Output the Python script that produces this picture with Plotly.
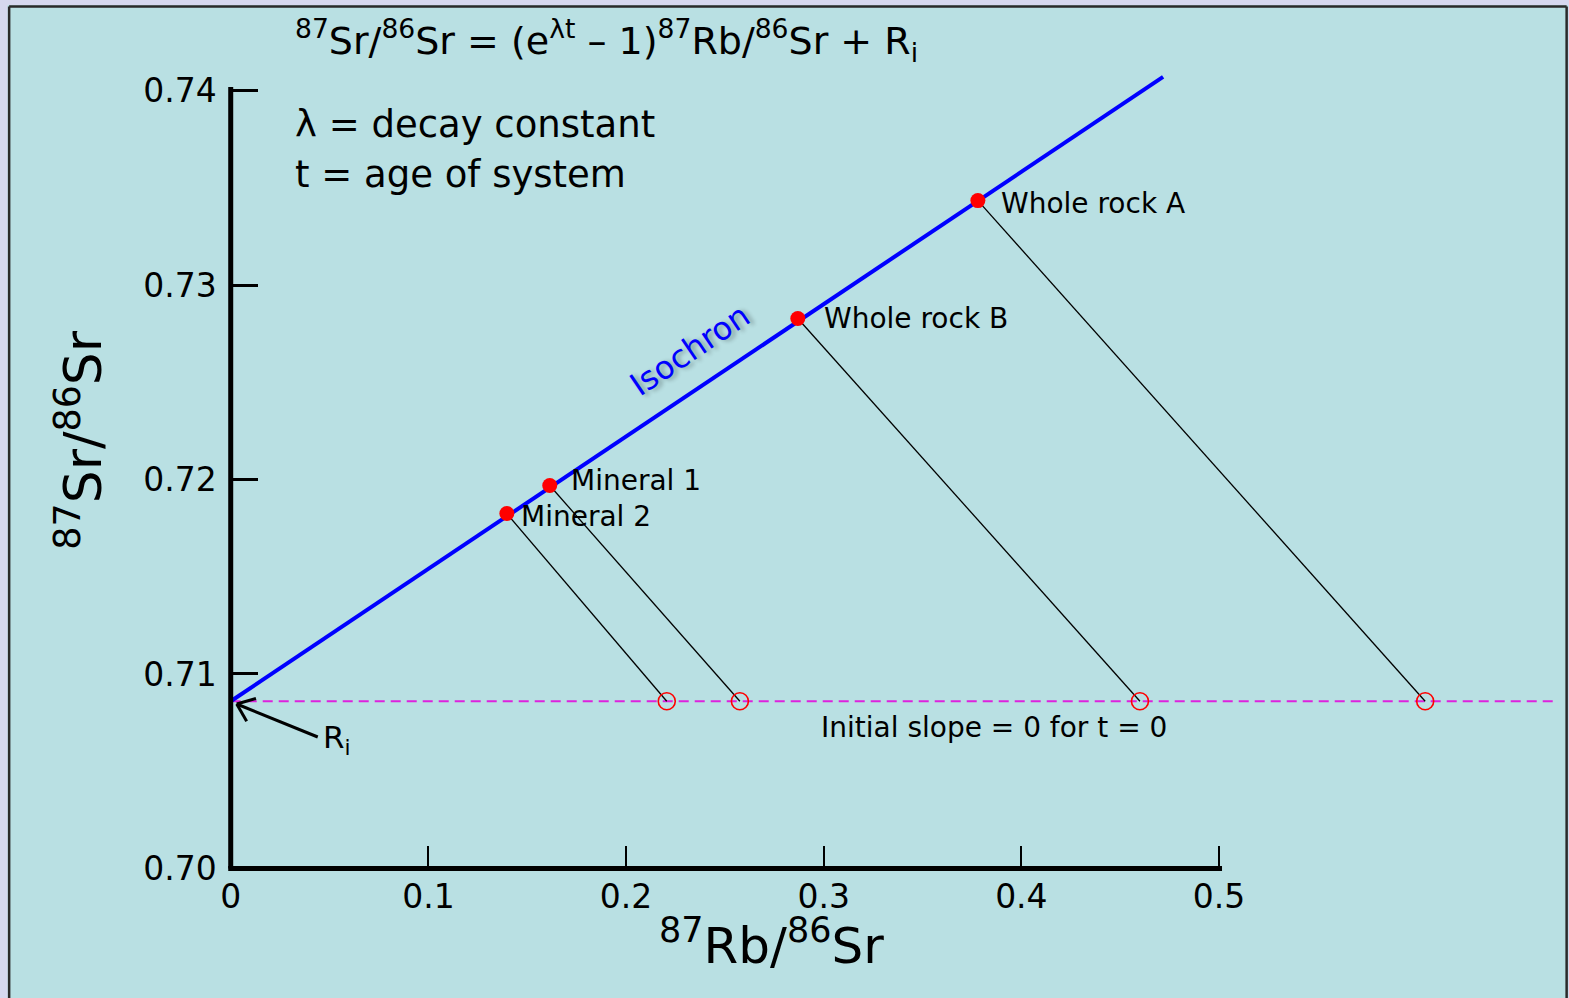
import math
import plotly.graph_objects as go

# ---------------- data ----------------
R_I = 0.7086                      # initial 87Sr/86Sr ratio
sample_names = ["Mineral 2", "Mineral 1", "Whole rock B", "Whole rock A"]
rb_sr_now = [0.1397, 0.1614, 0.2869, 0.3780]      # 87Rb/86Sr today
sr_sr_now = [0.71825, 0.71969, 0.72828, 0.73434]  # 87Sr/86Sr today
rb_sr_init = [0.2206, 0.2576, 0.4600, 0.6043]     # 87Rb/86Sr at t = 0
iso_x = [0.0, 0.4717]
iso_y = [0.7086, 0.7407]
initial_line_x = [0.0, 0.670]
x_tickvals = [0, 0.1, 0.2, 0.3, 0.4, 0.5]
x_ticktext = ["0", "0.1", "0.2", "0.3", "0.4", "0.5"]
y_tickvals = [0.70, 0.71, 0.72, 0.73, 0.74]
y_ticktext = ["0.70", "0.71", "0.72", "0.73", "0.74"]

# ---------------- geometry ----------------
W, H = 1569, 998
X_RANGE = [-0.012, 0.672]
Y_RANGE = [0.6955, 0.7445]
PX_X = 1976.0      # pixels per x unit
PX_Y = 19450.0     # pixels per y unit
L = 231 + X_RANGE[0] * PX_X
PW = (X_RANGE[1] - X_RANGE[0]) * PX_X
R = W - L - PW
T = 90.5 - (Y_RANGE[1] - 0.74) * PX_Y
PH = (Y_RANGE[1] - Y_RANGE[0]) * PX_Y
B = H - T - PH


def px2x(px):
    return X_RANGE[0] + (px - L) / PX_X


def py2y(py):
    return Y_RANGE[1] - (py - T) / PX_Y


def pxp(px):  # pixel -> paper x
    return (px - L) / PW


def pyp(py):  # pixel -> paper y
    return (H - B - py) / PH


FONT = "DejaVu Sans"
BG = "#b9e0e3"
LAV = "#d6d8ef"

fig = go.Figure()

# dashed initial line (t = 0)
fig.add_trace(go.Scatter(
    x=initial_line_x, y=[R_I, R_I], mode="lines",
    line=dict(color="#dd22dd", width=2, dash="10px,6px"),
    hoverinfo="skip", showlegend=False))

# connectors from present-day samples to initial positions
cx, cy = [], []
for xn, yn, xi in zip(rb_sr_now, sr_sr_now, rb_sr_init):
    cx += [xn, xi, None]
    cy += [yn, R_I, None]
fig.add_trace(go.Scatter(
    x=cx, y=cy, mode="lines", line=dict(color="black", width=1.3),
    hoverinfo="skip", showlegend=False))

# isochron
fig.add_trace(go.Scatter(
    x=iso_x, y=iso_y, mode="lines", line=dict(color="#0000ff", width=4),
    hoverinfo="skip", showlegend=False))

# open circles at t = 0
fig.add_trace(go.Scatter(
    x=rb_sr_init, y=[R_I] * len(rb_sr_init), mode="markers",
    marker=dict(symbol="circle-open", size=17, color="#ff0000",
                line=dict(width=1.6, color="#ff0000")),
    hoverinfo="skip", showlegend=False))

# present-day samples
fig.add_trace(go.Scatter(
    x=rb_sr_now, y=sr_sr_now, mode="markers",
    marker=dict(size=15, color="#ff0000"),
    text=sample_names, hoverinfo="text", showlegend=False))

# ---------------- shapes ----------------
shapes = []
# axis lines
shapes.append(dict(type="line", xref="x", yref="y",
                   x0=px2x(228.5), x1=0.5 + 3 / PX_X, y0=0.70, y1=0.70,
                   line=dict(color="black", width=5)))
shapes.append(dict(type="line", xref="x", yref="y",
                   x0=0, x1=0, y0=0.70, y1=py2y(87),
                   line=dict(color="black", width=5)))
# arrow to R_i
hx, hy = 237, 704
tx, ty = 318, 737
shapes.append(dict(type="line", xref="x", yref="y",
                   x0=px2x(tx), y0=py2y(ty), x1=px2x(hx), y1=py2y(hy),
                   line=dict(color="black", width=3)))
dx, dy = tx - hx, ty - hy
n = math.hypot(dx, dy)
ux, uy = dx / n, dy / n
for ang in (math.radians(38), math.radians(-38)):
    rx = ux * math.cos(ang) - uy * math.sin(ang)
    ry = ux * math.sin(ang) + uy * math.cos(ang)
    shapes.append(dict(type="line", xref="x", yref="y",
                       x0=px2x(hx), y0=py2y(hy),
                       x1=px2x(hx + 20 * rx), y1=py2y(hy + 20 * ry),
                       line=dict(color="black", width=3)))
# slide frame
shapes.append(dict(type="rect", xref="paper", yref="paper",
                   x0=pxp(-5), x1=pxp(8), y0=pyp(H + 5), y1=pyp(-5),
                   fillcolor=LAV, line=dict(width=0), layer="below"))
shapes.append(dict(type="rect", xref="paper", yref="paper",
                   x0=pxp(-5), x1=pxp(W + 5), y0=pyp(5), y1=pyp(-5),
                   fillcolor=LAV, line=dict(width=0), layer="below"))
shapes.append(dict(type="rect", xref="paper", yref="paper",
                   x0=pxp(1568), x1=pxp(W + 5), y0=pyp(H + 5), y1=pyp(-5),
                   fillcolor=LAV, line=dict(width=0), layer="below"))
for (x0, y0, x1, y1) in [(9.5, 6.5, 9.5, H + 5), (9.5, 6.5, 1566.5, 6.5),
                         (1566.5, 6.5, 1566.5, H + 5)]:
    shapes.append(dict(type="line", xref="paper", yref="paper",
                       x0=pxp(x0), y0=pyp(y0), x1=pxp(x1), y1=pyp(y1),
                       line=dict(color="#2a2a2a", width=2.5)))

# ---------------- annotations ----------------
ann = []


def text(s, px, py, size, anchor="left", color="black", angle=0, **kw):
    d = dict(text=s, x=pxp(px), y=pyp(py), xref="paper", yref="paper",
             showarrow=False, xanchor=anchor, yanchor="middle",
             textangle=angle,
             font=dict(family=FONT, size=size, color=color))
    d["font"].update(kw.pop("font_extra", {}))
    d.update(kw)
    ann.append(d)


text("<sup>87</sup>Sr/<sup>86</sup>Sr = (e<sup>λt</sup> – 1)<sup>87</sup>Rb/"
     "<sup>86</sup>Sr + R<sub>i</sub>", 293, 40, 38)
text("λ = decay constant", 293, 124, 37)
text("t = age of system", 293, 174, 37)
text("Whole rock A", 999, 203, 28)
text("Whole rock B", 822, 318, 28)
text("Mineral 1", 569, 481, 28)
text("Mineral 2", 519, 517, 28)
text("Isochron", 690, 350, 32, anchor="center", color="#0000ff", angle=-34,
     font_extra=dict(shadow="3px 3px 4px rgba(0,0,0,0.3)"))
text("Initial slope = 0 for t = 0", 819, 728, 28)
text("R<sub>i</sub>", 321, 740, 31)
text("<sup>87</sup>Rb/<sup>86</sup>Sr", 772, 943, 50, anchor="center")
text("<sup>87</sup>Sr/<sup>86</sup>Sr", 80, 440, 52, anchor="center", angle=-90)

fig.update_layout(
    width=W, height=H,
    margin=dict(l=L, r=R, t=T, b=B, pad=0),
    paper_bgcolor=BG, plot_bgcolor="rgba(0,0,0,0)",
    showlegend=False,
    shapes=shapes, annotations=ann,
    font=dict(family=FONT, color="black"),
    xaxis=dict(range=X_RANGE, showgrid=False, zeroline=False, showline=False,
               anchor="free",
               position=(0.70 - Y_RANGE[0]) / (Y_RANGE[1] - Y_RANGE[0]),
               tickmode="array", tickvals=x_tickvals, ticktext=x_ticktext,
               ticks="inside", ticklen=22, tickwidth=2, tickcolor="black",
               ticklabelstandoff=6,
               tickfont=dict(family=FONT, size=33, color="black")),
    yaxis=dict(range=Y_RANGE, showgrid=False, zeroline=False, showline=False,
               anchor="free",
               position=(0 - X_RANGE[0]) / (X_RANGE[1] - X_RANGE[0]),
               tickmode="array", tickvals=y_tickvals, ticktext=y_ticktext,
               ticks="inside", ticklen=26, tickwidth=3, tickcolor="black",
               ticklabelstandoff=14,
               tickfont=dict(family=FONT, size=33, color="black")),
)

fig.write_html("out.html",
               config={"displayModeBar": False},
               post_script="document.body.style.margin='0';"
                           "document.body.style.overflow='hidden';")
